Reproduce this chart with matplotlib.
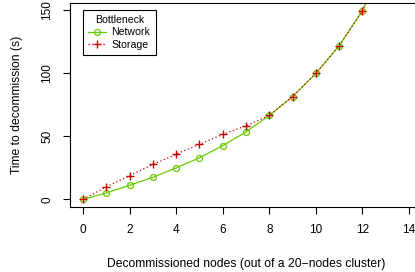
import numpy as np
import matplotlib
matplotlib.use("Agg")
import matplotlib.pyplot as plt

plt.rcParams['font.family'] = ['Liberation Sans', 'DejaVu Sans']

# datos
nodes = [0, 1, 2, 3, 4, 5, 6, 7, 8, 9, 10, 11, 12, 13]
network = [0, 5.2, 11.2, 17.5, 25, 33, 42.6, 53.5, 66.5, 81.5, 99.8, 121.7, 149.5, 190]
storage = [0, 10, 18.8, 27.7, 35.9, 43.7, 51.5, 58.3, 66.5, 81.5, 99.8, 121.7, 149.5, 190]

xticks = [0, 2, 4, 6, 8, 10, 12, 14]
yticks = [0, 50, 100, 150]

green = "#66CD00"
red = "#CD0000"

fig = plt.figure(figsize=(4.15, 2.72), dpi=100)
ax = fig.add_axes([70/415, 1 - 207/272, 352/415, 204.5/272])

ax.plot(nodes, network, color=green, lw=0.9, marker="o", ms=4.3,
        mfc="none", mec=green, mew=0.9, label="Network")
ax.plot(nodes, storage, color=red, lw=0.9, ls=(0, (1, 2)), marker="+", ms=6,
        mec=red, mew=1.0, label="Storage")

ax.set_xlim(-0.56, 14.56)
ax.set_ylim(-6, 156)
ax.set_xticks(xticks)
ax.set_yticks(yticks)
ax.set_yticklabels([str(t) for t in yticks], rotation=90, va="center")
ax.tick_params(direction="out", length=5, width=0.8, labelsize=8.5, pad=7)

for s in ax.spines.values():
    s.set_linewidth(0.8)

ax.set_xlabel("Decommissioned nodes (out of a 20\u2212nodes cluster)", fontsize=8.7, labelpad=16)
ax.set_ylabel("Time to decommission (s)", fontsize=8.7, labelpad=13)

leg = ax.legend(title="Bottleneck", loc="upper left", bbox_to_anchor=(0.037, 0.963),
                borderaxespad=0, fontsize=7.6, title_fontsize=7.6, fancybox=False,
                framealpha=1, edgecolor="black", handlelength=1.7, handletextpad=0.5,
                labelspacing=0.2, borderpad=0.5)
leg.get_frame().set_linewidth(0.8)

fig.savefig("out.png", dpi=100)
